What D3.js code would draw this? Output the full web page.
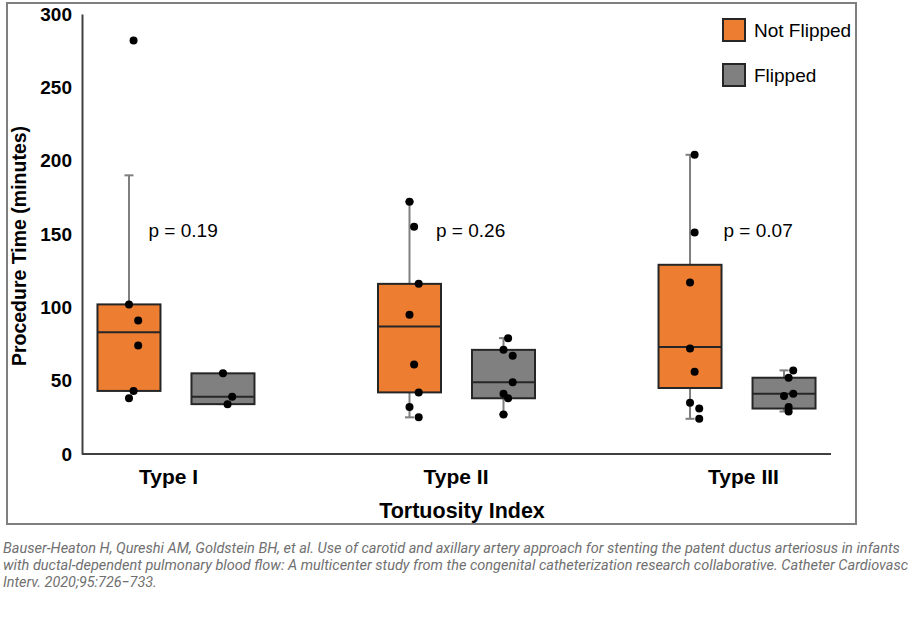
<!DOCTYPE html>
<html>
<head>
<meta charset="utf-8">
<script src="https://cdn.jsdelivr.net/npm/d3@7"></script>
<style>
   body { margin: 0; background: #fff; }
   svg { display: block; }
</style>
</head>
<body>
<svg id="chart" width="915" height="617"></svg>
<script>
// values, indexed [category][series]
const categories = ['Type I', 'Type II', 'Type III'];
const series = ['Not Flipped', 'Flipped'];
const seriesColors = ['#ed7d31', '#808080'];

const boxQ1 = [[43, 34], [42, 38], [45, 31]];
const boxMedian = [[83, 39], [87, 49], [73, 41]];
const boxQ3 = [[102, 55], [116, 71], [129, 52]];
const whiskerLow = [[43, 34], [25, 27], [24, 29]];
const whiskerHigh = [[190, 55], [172, 79], [204, 57]];

const points = [
   [[282, 102, 91, 74, 43, 38], [55, 39, 34]],
   [[172, 155, 116, 95, 61, 42, 32, 25], [79, 71, 67, 49, 41, 38, 27]],
   [[204, 151, 117, 72, 56, 35, 31, 24], [57, 52, 41, 39.5, 32, 29]]
];
// horizontal jitter level of each point (0, 1 or 2)
const jitter = [
   [[1, 0, 2, 2, 1, 0], [0, 2, 1]],
   [[0, 1, 2, 0, 1, 2, 0, 2], [1, 0, 2, 2, 0, 1, 0]],
   [[1, 1, 0, 0, 1, 0, 2, 2], [2, 1, 2, 0, 1, 1]]
];

const pValues = ['p = 0.19', 'p = 0.26', 'p = 0.07'];
const yTicks = [0, 50, 100, 150, 200, 250, 300];

const svg = d3.select('#chart');
const font = '"Liberation Sans", Arial, sans-serif';

// outer frame
svg.append('rect')
   .attr('x', 7).attr('y', 3)
   .attr('width', 849).attr('height', 521)
   .attr('fill', 'none')
   .attr('stroke', '#7f7f7f')
   .attr('stroke-width', 2);

const x = d3.scalePoint()
   .domain(categories)
   .range([82, 831])
   .padding(0.335);
const xSub = d3.scalePoint()
   .domain(series)
   .range([-47, 47]);
// labels were placed a little unevenly in the original
const xLabel = d3.scalePoint()
   .domain(categories)
   .range([148.5, 723.5]);
const y = d3.scaleLinear()
   .domain([0, 300])
   .range([454, 14]);

const boxWidth = 63;
const capWidth = 9;

// y axis
const yAxis = svg.append('g')
   .attr('transform', 'translate(82,0)')
   .call(d3.axisLeft(y).tickValues(yTicks).tickSize(0).tickSizeOuter(0).tickPadding(10));
yAxis.select('.domain').attr('stroke', '#404040').attr('stroke-width', 2);
yAxis.selectAll('text')
   .style('font-family', font)
   .style('font-weight', 'bold')
   .style('font-size', '19px')
   .attr('fill', '#000');

// x axis line
svg.append('line')
   .attr('x1', 82).attr('x2', 831)
   .attr('y1', y(0)).attr('y2', y(0))
   .attr('stroke', '#404040')
   .attr('stroke-width', 2);

svg.selectAll('.x-label')
   .data(categories)
   .enter()
   .append('text')
      .attr('class', 'x-label')
      .attr('x', d => xLabel(d) + 20)
      .attr('y', 484)
      .attr('text-anchor', 'middle')
      .style('font-family', font)
      .style('font-weight', 'bold')
      .style('font-size', '21px')
      .text(d => d);

svg.append('text')
   .attr('x', 462)
   .attr('y', 518)
   .attr('text-anchor', 'middle')
   .style('font-family', font)
   .style('font-weight', 'bold')
   .style('font-size', '21.5px')
   .text('Tortuosity Index');

svg.append('text')
   .attr('transform', 'translate(26,246) rotate(-90)')
   .attr('text-anchor', 'middle')
   .style('font-family', font)
   .style('font-weight', 'bold')
   .style('font-size', '19.5px')
   .text('Procedure Time (minutes)');

// boxes
categories.forEach(function(cat, ci) {
   series.forEach(function(s, si) {
      const cx = x(cat) + xSub(s);
      const g = svg.append('g');

      // whiskers
      g.append('line')
         .attr('x1', cx).attr('x2', cx)
         .attr('y1', y(whiskerHigh[ci][si])).attr('y2', y(whiskerLow[ci][si]))
         .attr('stroke', '#7f7f7f').attr('stroke-width', 2);
      [whiskerLow[ci][si], whiskerHigh[ci][si]].forEach(function(v) {
         g.append('line')
            .attr('x1', cx - capWidth / 2).attr('x2', cx + capWidth / 2)
            .attr('y1', y(v)).attr('y2', y(v))
            .attr('stroke', '#7f7f7f').attr('stroke-width', 2);
      });

      g.append('rect')
         .attr('x', cx - boxWidth / 2)
         .attr('y', y(boxQ3[ci][si]))
         .attr('width', boxWidth)
         .attr('height', y(boxQ1[ci][si]) - y(boxQ3[ci][si]))
         .attr('fill', seriesColors[si])
         .attr('stroke', '#262626')
         .attr('stroke-width', 2);

      g.append('line')
         .attr('x1', cx - boxWidth / 2).attr('x2', cx + boxWidth / 2)
         .attr('y1', y(boxMedian[ci][si])).attr('y2', y(boxMedian[ci][si]))
         .attr('stroke', '#262626').attr('stroke-width', 2);

      g.selectAll('circle')
         .data(points[ci][si])
         .enter()
         .append('circle')
            .attr('cx', (d, i) => cx + jitter[ci][si][i] * 4.6)
            .attr('cy', d => y(d))
            .attr('r', 4)
            .attr('fill', '#000');
   });
});

// p values
svg.selectAll('.p-label')
   .data(pValues)
   .enter()
   .append('text')
      .attr('class', 'p-label')
      .attr('x', (d, i) => xLabel(categories[i]))
      .attr('y', y(148))
      .style('font-family', font)
      .style('font-size', '19px')
      .text(d => d);

// legend
const legend = svg.selectAll('.legend-item')
   .data(series)
   .enter()
   .append('g')
      .attr('class', 'legend-item')
      .attr('transform', (d, i) => `translate(723,${19 + i * 45})`);
legend.append('rect')
   .attr('width', 22).attr('height', 22)
   .attr('fill', (d, i) => seriesColors[i])
   .attr('stroke', '#262626')
   .attr('stroke-width', 2);
legend.append('text')
   .attr('x', 31)
   .attr('y', 18)
   .style('font-family', font)
   .style('font-size', '19px')
   .text(d => d);

// citation - condensed italic, squeezed horizontally to the original widths
const caption = [
   ['Bauser-Heaton H, Qureshi AM, Goldstein BH, et al. Use of carotid and axillary artery approach for stenting the patent ductus arteriosus in infants', 898],
   ['with ductal-dependent pulmonary blood flow: A multicenter study from the congenital catheterization research collaborative. Catheter Cardiovasc', 906],
   ['Interv. 2020;95:726\u2212733.', 154]
];
svg.selectAll('.caption')
   .data(caption)
   .enter()
   .append('text')
      .attr('class', 'caption')
      .attr('x', 0)
      .attr('y', 0)
      .style('font-family', 'Roboto, sans-serif')
      .style('font-style', 'italic')
      .style('font-size', '15px')
      .attr('fill', '#707070')
      .text(d => d[0])
      .attr('transform', function(d, i) {
         const w = this.getComputedTextLength();
         return `translate(3,${553 + i * 17}) scale(${d[1] / w},1)`;
      });
</script>
</body>
</html>
